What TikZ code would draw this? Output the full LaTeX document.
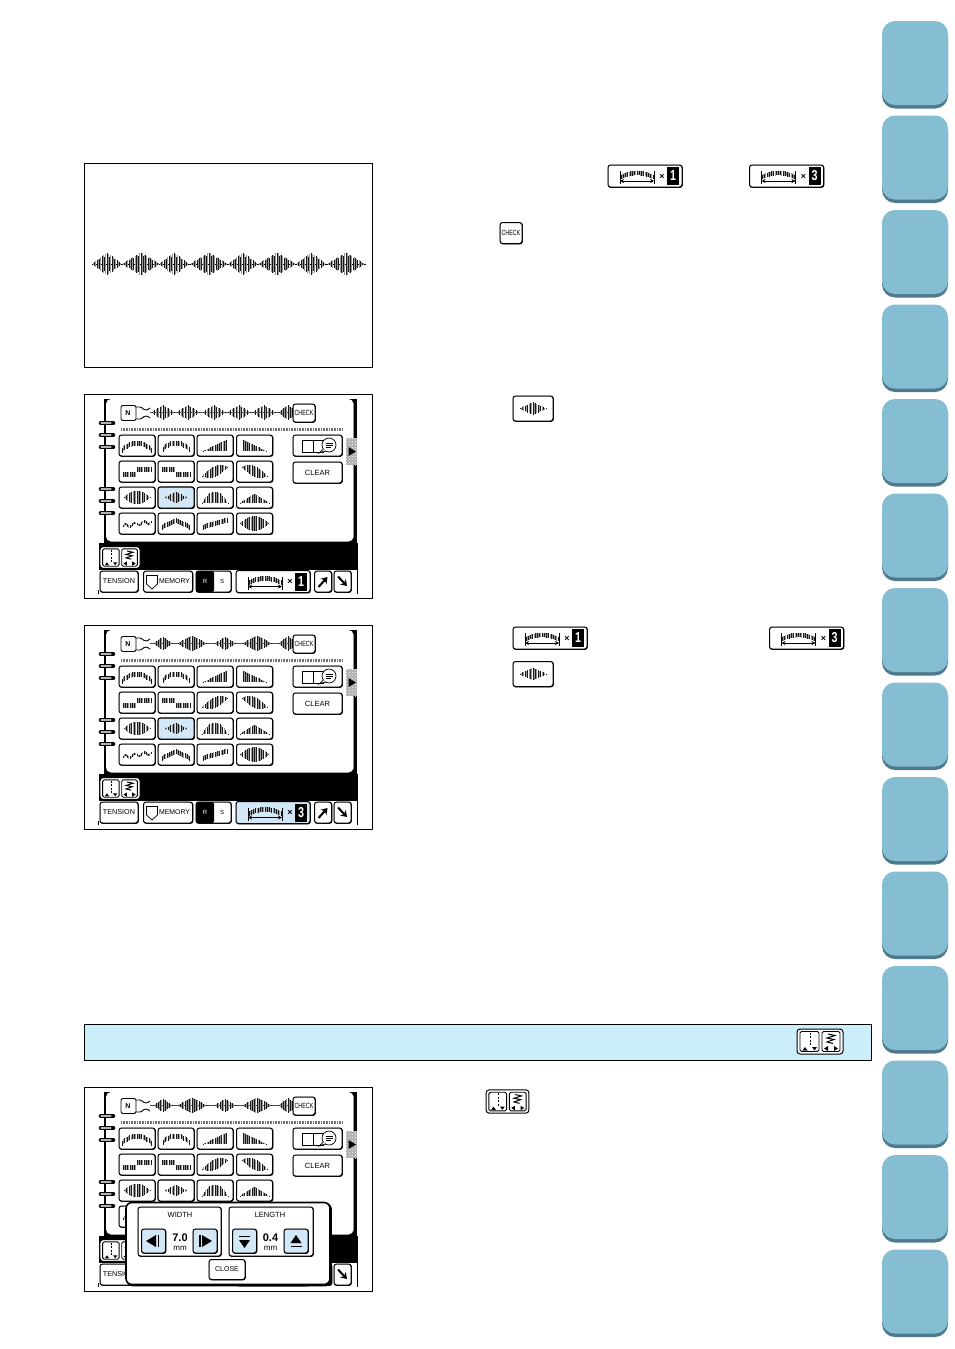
\documentclass[tikz,border=0pt]{standalone}
\usepackage{fontspec}
\setsansfont{Liberation Sans}
\usetikzlibrary{arrows.meta,patterns}
\definecolor{tabblue}{HTML}{85BDD3}
\definecolor{tabshade}{HTML}{4F7A8E}
\definecolor{keyblue}{HTML}{D3E8F6}
\definecolor{stripblue}{HTML}{CCEEFB}

\newcommand{\stitchglyph}[6][5]{%
	\pgfmathtruncatemacro{\kn}{2*#1}%
	\foreach \k in {-\kn,...,\kn}{%
		\pgfmathsetmacro{\st}{\k/\kn}%
		\pgfmathsetmacro{\cy}{#5}%
		\pgfmathsetmacro{\hh}{#6}%
		\pgfmathsetmacro{\sx}{#2+#4*\st}%
		\ifodd\k\relax
			\draw[stitchline, black!40] (\sx,{#3+\cy-\hh}) -- (\sx,{#3+\cy+\hh});
		\else
			\draw[stitchline] (\sx,{#3+\cy-\hh}) -- (\sx,{#3+\cy+\hh});
		\fi
	}%
}
\newcommand{\keylabel}[1]{\fontsize{#1}{#1}\selectfont}

\tikzset{
	x=1pt, y=-1pt,
	stitchline/.style={black!90, line width=.9pt},
	framebox/.style={draw=black, line width=.9pt},
	keybtn/.style={draw=black, line width=1pt, rounded corners=2.5pt, fill=white, inner sep=0pt,
		font=\sffamily\keylabel{7}, preaction={draw, transform canvas={shift={(.4pt,-.4pt)}}}},
	gridkey/.style={keybtn, minimum width=36pt, minimum height=21pt},
	sidekey/.style={keybtn, minimum width=49pt, minimum height=21pt},
	arrowkey/.style={keybtn, minimum width=24pt, minimum height=24pt, fill=keyblue},
	pics/widthkey/.style 2 args={code={
		\node[keybtn, fill=#1, minimum width=74pt, minimum height=22pt] (box) at (0,0) {};
		\stitchglyph[7]{-8}{0}{16}{-3+4*\st*\st}{2.4}
		\draw[line width=.7pt] (-25,-5) -- (-25,8);
		\draw[line width=.7pt] (9,-5) -- (9,8);
		\draw[line width=.7pt, {Stealth[length=4pt,width=4pt]}-{Stealth[length=4pt,width=4pt]}] (-25,5) -- (9,5);
		\node[font=\sffamily\bfseries\keylabel{9}, inner sep=0pt] (times) at (17,0.5) {×};
		\node[fill=black, text=white, font=\sffamily\bfseries\keylabel{12}, minimum width=12pt, minimum height=18pt, inner sep=0pt] (digit) at (28,0) {\scalebox{.9}[1.2]{#2}};
	}},
	pics/threadkey/.style={code={
		\draw[line width=1pt, rounded corners=3pt, fill=white] (-23,-12.5) rectangle (23,12.5);
		\draw[line width=.9pt, rounded corners=1.5pt] (-20,-10) rectangle (-1,10);
		\draw[line width=.9pt, rounded corners=1.5pt] (2,-10) rectangle (20,10);
		\draw[line width=.8pt, dashed, dash pattern=on 2pt off 1.5pt] (-10,-9) -- (-10,5);
		\fill (-17.5,9) -- (-12.5,9) -- (-15,5.5) -- cycle;
		\fill (-8,5.5) -- (-3,5.5) -- (-5.5,9) -- cycle;
		\draw[line width=1pt] (8,-7.5) -- (15,-6) -- (7,-3.5) -- (14,-2) -- (7,.5) -- (13,2);
		\fill (4,7) -- (8,4.5) -- (8,9.5) -- cycle;
		\fill (18,7) -- (14,4.5) -- (14,9.5) -- cycle;
	}},
	pics/panelscreen/.style n args={4}{code={
		\draw[framebox] (84.5,394.5) rectangle (372.5,598);
		\fill[black] (104,399) rectangle (357,570);
		\fill[black] (98.5,543) rectangle (358,570);
		\fill[white, rounded corners=5pt] (106,399) -- (106,541.5) -- (353.5,541.5) -- (353.5,399) -- cycle;
		\draw[gray, line width=.8pt, dash pattern=on 1pt off 1pt] (353,403) -- (353,538);
		\draw[line width=.8pt] (357.5,570) -- (357.5,594);
		\draw[line width=.8pt] (98.5,590) -- (98.5,594);
		\foreach \ry in {423,435,447,489,501,513}{
			\draw[line width=4.6pt, line cap=round] (101,\ry) -- (113,\ry);
			\draw[line width=1.2pt, gray!60, line cap=round] (101,\ry) -- (111,\ry);
		}
		\draw[line width=.9pt, rounded corners=2pt, fill=white] (136,405.5) rectangle (121,420.5);
		\draw[line width=.9pt] (136,407) -- (140,407) .. controls (143,407) and (144,413) .. (150,408);
		\draw[line width=.9pt] (136,419) -- (140,419) .. controls (143,419) and (144,413) .. (150,418);
		\node[font=\sffamily\bfseries\keylabel{7}, inner sep=0pt] (needle) at (128,413) {N};
		\draw[line width=.5pt, black!70] (150,412.5) -- (293,412.5);
		\foreach \wx/\ww/\wh in {#4}{
			\pgfmathtruncatemacro{\wn}{\ww/2.5+.5}
			\stitchglyph[\wn]{\wx}{412.5}{\ww}{0}{\wh*(1-.8*abs(\st)-.2*\st*\st)+.3}
		}
		\node[keybtn, minimum width=22pt, minimum height=18pt] (check) at (304,413) {\scalebox{.72}[1]{\keylabel{7.5}CHECK}};
		\draw[black!55, line width=2.4pt, dash pattern=on .8pt off .8pt] (121,429.5) -- (342,429.5);
		\foreach \cx [count=\ci] in {137,176,215,254.5}{
			\foreach \cy [count=\cj] in {445.5,471.5,497.5,523.5}{
				\node[gridkey] (key\cj\ci) at (\cx,\cy) {};
			}
		}
		\node[gridkey, fill=#1] (keychosen) at (176,497.5) {};
		\stitchglyph[6]{137}{445.5}{14.5}{-2.5+7*\st*\st}{2.5}
		\stitchglyph{176}{445.5}{13}{-2.5+6*\st*\st}{2.5}
		\stitchglyph{215}{445.5}{11.5}{5.5-(5.5*(\st+1)/2)}{5.5*(\st+1)/2+.3}
		\stitchglyph{254.5}{445.5}{11.5}{5.5-(5.5*(1-\st)/2)}{5.5*(1-\st)/2+.3}
		\stitchglyph[6]{137}{471.5}{14}{(\st<0 ? 3 : -2)}{2.5}
		\stitchglyph[6]{176}{471.5}{14}{(\st<0 ? -2 : 3)}{2.5}
		\stitchglyph{215}{471.5}{12.5}{-4.5*\st}{5*(1-\st*\st)+.4}
		\stitchglyph{254.5}{471.5}{12.5}{4.5*\st}{5*(1-\st*\st)+.4}
		\stitchglyph{137}{497.5}{13}{0}{6.5*(1-\st*\st)+.4}
		\stitchglyph[4]{176}{497.5}{10.5}{0}{5.5*(1-abs(\st))+.4}
		\stitchglyph{215}{497.5}{13}{5.5-(5.5*(1-\st*\st))}{5.5*(1-\st*\st)+.3}
		\stitchglyph[6]{254.5}{497.5}{14.5}{5.5-(4.5*(1-abs(\st)))}{4.5*(1-abs(\st))+.3}
		\stitchglyph[6]{137}{523.5}{14}{2.5-2*(\st+1)+1.5*sin(\st*540)}{1.3}
		\stitchglyph[6]{176}{523.5}{13.5}{-3+6.5*abs(\st)}{2.5}
		\stitchglyph{215}{523.5}{12}{-3.5*\st}{2.5}
		\stitchglyph[6]{254.5}{523.5}{14}{0}{7*(1-\st*\st)+.3}
		\node[sidekey] (book) at (317.5,445.5) {};
		\draw[line width=.7pt, fill=white] (302,440) -- (313,440) -- (313,452) -- (302,452) -- cycle;
		\draw[line width=.7pt] (313,440) -- (323,440) -- (323,452) -- (313,452);
		\draw[line width=.7pt, fill=white] (329,445) circle[radius=7];
		\draw[line width=.7pt, fill=white] (323.5,449) -- (319,453) -- (325.5,451);
		\draw[line width=.7pt] (325.5,443) -- (332.5,443) (325.5,445) -- (332.5,445) (325.5,447) -- (331,447);
		\node[sidekey, font=\sffamily\keylabel{7.5}] (clear) at (317.5,472.5) {CLEAR};
		\fill[gray!65] (346,438) rectangle (357,465);
		\fill[pattern=crosshatch dots, pattern color=white] (346,438) rectangle (357,465);
		\fill[black] (348.5,447) -- (356,451.5) -- (348.5,456) -- cycle;
		\fill[white] (100,571) rectangle (356.5,594);
		\node[keybtn, minimum width=38pt, minimum height=21pt, font=\sffamily\keylabel{7.2}] (tension) at (119,581.5) {TENSION};
		\node[keybtn, minimum width=49pt, minimum height=21pt] (memory) at (168,581.5) {};
		\draw[line width=.7pt] (146.5,575.5) -- (157.5,575.5) -- (157.5,584) -- (152,589) -- (146.5,584) -- cycle;
		\node[inner sep=0pt, font=\sffamily\keylabel{6.9}] (memorytext) at (174.5,581.5) {MEMORY};
		\node[keybtn, minimum width=35pt, minimum height=21pt] (rskey) at (213.5,581.5) {};
		\fill[black, rounded corners=1.5pt] (196,571) rectangle (214,592);
		\node[text=white, inner sep=0pt, font=\sffamily\keylabel{6}] (rtext) at (205,581.5) {R};
		\node[inner sep=0pt, font=\sffamily\keylabel{6}] (stext) at (222,581.5) {S};
		\pic (wkey) at (273,581.5) {widthkey={#2}{#3}};
		\node[keybtn, minimum width=17pt, minimum height=21pt] (upkey) at (323,581.5) {};
		\draw[line width=2pt, -{Stealth[length=6pt,width=8pt]}] (318.5,587) -- (327.5,577);
		\node[keybtn, minimum width=17pt, minimum height=21pt] (downkey) at (342.5,581.5) {};
		\draw[line width=2pt, -{Stealth[length=6pt,width=8pt]}] (338,576.5) -- (347,586);
		\pic (tab) at (120,557.5) [scale=.87] {threadkey};
	}},
}

\begin{document}
\begin{tikzpicture}
	\useasboundingbox (0,0) rectangle (954,1349);
	\fill[white] (0,0) rectangle (954,1349);
	\foreach \n in {0,...,13}{
		\pgfmathsetmacro{\ty}{21+94.5*\n}
		\fill[tabshade, rounded corners=13pt] (882,\ty+3.5) rectangle (948,\ty+87.5);
		\fill[tabblue, rounded corners=13pt] (882,\ty) rectangle (948,\ty+84);
	}
	\draw[framebox] (84.5,163.5) rectangle (372.5,367.5);
	\draw[line width=.6pt] (92,264) -- (366,264);
	\foreach \wx [count=\wi] in {107,141,174,209,243,277,311,346}{
		\pgfmathsetmacro{\ww}{mod(\wi,2)==1 ? 15 : 19}
		\pgfmathtruncatemacro{\wn}{\ww/2.5+.5}
		\stitchglyph[\wn]{\wx}{264}{\ww}{0}{(11*(1-abs(\st))+.4)*(abs(mod(\k,4))==2 ? .78 : 1)}
	}
	\pic (onekey) at (645,176) {widthkey={white}{1}};
	\pic (threekey) at (786.5,176) {widthkey={white}{3}};
	\node[keybtn, minimum width=22pt, minimum height=21pt] (checkkey) at (511,233) {\scalebox{.72}[1]{\keylabel{7.5}CHECK}};
	\node[keybtn, minimum width=40pt, minimum height=25pt] (lenskey) at (533,408.5) {};
	\stitchglyph{533}{408.5}{13}{0}{6*(1-abs(\st))+.4}
	\pic (onekeytwo) at (550,638) {widthkey={white}{1}};
	\pic (threekeytwo) at (806.5,638) {widthkey={white}{3}};
	\node[keybtn, minimum width=40pt, minimum height=25pt] (lenskeytwo) at (533,674) {};
	\stitchglyph{533}{674}{13}{0}{6*(1-abs(\st))+.4}
	\pic (first) at (0,0) {panelscreen={keyblue}{white}{1}{163/11/7,188/11/7,214/11/7,239/11/7,264/11/7,288/9/7}};
	\pic (second) at (0,231) {panelscreen={keyblue}{keyblue}{3}{163/9/6,192/14/7.5,225/10/6,257/14/7.5,288/9/7}};
	\pic (third) at (0,693) {panelscreen={white}{white}{1}{163/9/6,192/14/7.5,225/10/6,257/14/7.5,288/9/7}};
	\fill[stripblue] (84.5,1024.5) rectangle (871.5,1060.5);
	\draw[framebox] (84.5,1024.5) rectangle (871.5,1060.5);
	\pic (stripkey) at (820,1041.5) {threadkey};
	\pic (threadkeytwo) at (507.5,1101.5) [scale=.93] {threadkey};
	\draw[line width=1.8pt, fill=black, rounded corners=6pt] (127,1203.5) rectangle (331,1285.5);
	\draw[line width=1.6pt, fill=white, rounded corners=6pt] (126,1202.5) rectangle (330,1284.5);
	\node[keybtn, minimum width=83pt, minimum height=49pt] (widthbox) at (179.5,1231.5) {};
	\node[keybtn, minimum width=84pt, minimum height=49pt] (lengthbox) at (271,1231.5) {};
	\node[inner sep=0pt, font=\sffamily\keylabel{7.5}] (widthtext) at (180,1215) {WIDTH};
	\node[inner sep=0pt, font=\sffamily\keylabel{7.5}] (lengthtext) at (270,1215) {LENGTH};
	\node[arrowkey] (lesswidth) at (153.5,1241) {};
	\node[arrowkey] (morewidth) at (205,1241) {};
	\node[arrowkey] (lesslength) at (244.5,1241) {};
	\node[arrowkey] (morelength) at (296,1241) {};
	\fill (146,1241) -- (156,1235) -- (156,1247) -- cycle;
	\fill (157.5,1235) rectangle (159,1247);
	\fill (212,1241) -- (202,1235) -- (202,1247) -- cycle;
	\fill (199,1235) rectangle (200.5,1247);
	\fill (239,1240) -- (250,1240) -- (244.5,1248) -- cycle;
	\fill (239,1235.5) rectangle (250,1237);
	\fill (290.5,1243) -- (301.5,1243) -- (296,1235) -- cycle;
	\fill (290.5,1245.5) rectangle (301.5,1247);
	\node[inner sep=0pt, font=\sffamily\bfseries\keylabel{11}] (widthvalue) at (180,1238) {7.0};
	\node[inner sep=0pt, font=\sffamily\keylabel{8}] (widthunit) at (180,1248) {mm};
	\node[inner sep=0pt, font=\sffamily\bfseries\keylabel{11}] (lengthvalue) at (270.5,1238) {0.4};
	\node[inner sep=0pt, font=\sffamily\keylabel{8}] (lengthunit) at (270.5,1248) {mm};
	\node[keybtn, minimum width=36pt, minimum height=20pt] (closekey) at (227,1269.5) {CLOSE};
\end{tikzpicture}
\end{document}
